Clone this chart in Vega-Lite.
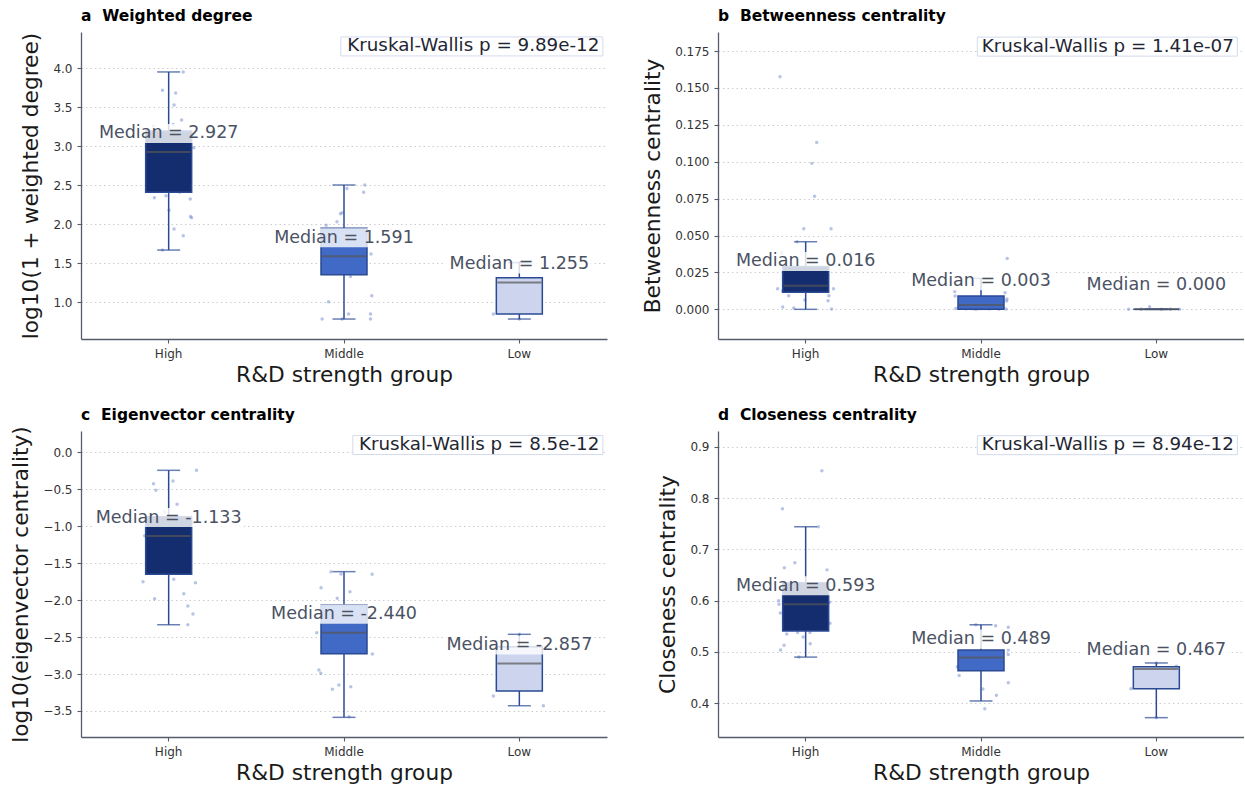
{
  "$schema": "https://vega.github.io/schema/vega-lite/v6.json",
  "background": "white",
  "padding": {"left": 10, "top": 8, "right": 0, "bottom": 0},
  "autosize": {"type": "pad"},
  "config": {
    "font": "DejaVu Sans",
    "view": {"stroke": null},
    "axis": {"domainColor": "#555b6b", "domainWidth": 1.3, "tickColor": "#555b6b", "tickWidth": 1.1, "tickSize": 4, "labelColor": "#333333", "labelFontSize": 12, "labelPadding": 5, "titleFontSize": 21.7, "titleFontWeight": "normal", "titleColor": "#1a1a1a", "gridColor": "#cccccc", "gridDash": [1.5, 3], "gridWidth": 1},
    "axisX": {"grid": false, "labelPadding": 5.5, "titlePadding": 5, "labelAngle": 0},
    "axisY": {"grid": true, "titlePadding": 10},
    "title": {"anchor": "start", "fontSize": 15.5, "fontWeight": "bold", "color": "#000000", "offset": 8, "frame": "group"}
  },
  "datasets": {
    "box_a": [
      {"group": "High", "lo": 1.67, "q1": 2.41, "med": 2.927, "q3": 3.196, "hi": 3.953, "label": "Median = 2.927"},
      {"group": "Middle", "lo": 0.786, "q1": 1.354, "med": 1.591, "q3": 1.949, "hi": 2.504, "label": "Median = 1.591"},
      {"group": "Low", "lo": 0.786, "q1": 0.85, "med": 1.255, "q3": 1.316, "hi": 1.51, "label": "Median = 1.255"}
    ],
    "box_b": [
      {"group": "High", "lo": 0, "q1": 0.0115, "med": 0.016, "q3": 0.029, "hi": 0.0458, "label": "Median = 0.016"},
      {"group": "Middle", "lo": 0, "q1": 0, "med": 0.003, "q3": 0.009, "hi": 0.021, "label": "Median = 0.003"},
      {"group": "Low", "lo": 0, "q1": 0, "med": 0, "q3": 0, "hi": 0, "label": "Median = 0.000"}
    ],
    "box_c": [
      {"group": "High", "lo": -2.333, "q1": -1.651, "med": -1.133, "q3": -0.871, "hi": -0.244, "label": "Median = -1.133"},
      {"group": "Middle", "lo": -3.586, "q1": -2.725, "med": -2.44, "q3": -2.066, "hi": -1.615, "label": "Median = -2.440"},
      {"group": "Low", "lo": -3.429, "q1": -3.23, "med": -2.857, "q3": -2.63, "hi": -2.463, "label": "Median = -2.857"}
    ],
    "box_d": [
      {"group": "High", "lo": 0.49, "q1": 0.541, "med": 0.593, "q3": 0.635, "hi": 0.744, "label": "Median = 0.593"},
      {"group": "Middle", "lo": 0.4045, "q1": 0.4636, "med": 0.489, "q3": 0.504, "hi": 0.553, "label": "Median = 0.489"},
      {"group": "Low", "lo": 0.372, "q1": 0.4285, "med": 0.467, "q3": 0.4714, "hi": 0.4786, "label": "Median = 0.467"}
    ],
    "kw_a": [{"label": "Kruskal-Wallis p = 9.89e-12"}],
    "kw_b": [{"label": "Kruskal-Wallis p = 1.41e-07"}],
    "kw_c": [{"label": "Kruskal-Wallis p = 8.5e-12"}],
    "kw_d": [{"label": "Kruskal-Wallis p = 8.94e-12"}],
    "pts_a": [
      {"group": "High", "v": 3.953, "j": 0.54}, {"group": "High", "v": 3.718, "j": -0.23}, {"group": "High", "v": 3.683, "j": 0.26}, {"group": "High", "v": 3.53, "j": 0.2}, {"group": "High", "v": 3.337, "j": 0.48}, {"group": "High", "v": 3.28, "j": 0.17}, {"group": "High", "v": 3.26, "j": -0.56}, {"group": "High", "v": 2.98, "j": 0.93}, {"group": "High", "v": 2.341, "j": -0.53}, {"group": "High", "v": 2.367, "j": -0.1}, {"group": "High", "v": 2.41, "j": 0.4}, {"group": "High", "v": 2.324, "j": 0.8}, {"group": "High", "v": 2.18, "j": 0.01}, {"group": "High", "v": 2.1, "j": 0.81}, {"group": "High", "v": 2.085, "j": 0.85}, {"group": "High", "v": 1.94, "j": 0.2}, {"group": "High", "v": 1.854, "j": 0.54}, {"group": "High", "v": 1.67, "j": -0.23}, {"group": "High", "v": 2.6, "j": -0.37}, {"group": "High", "v": 2.75, "j": 0.3}, {"group": "High", "v": 2.85, "j": -0.67}, {"group": "High", "v": 2.95, "j": 0.11}, {"group": "High", "v": 3.05, "j": 0.56}, {"group": "High", "v": 2.5, "j": 0.67}, {"group": "High", "v": 3.15, "j": -0.19}, {"group": "High", "v": 2.45, "j": -0.74},
      {"group": "Middle", "v": 2.504, "j": 0.77}, {"group": "Middle", "v": 2.46, "j": 0.11}, {"group": "Middle", "v": 2.41, "j": 0.73}, {"group": "Middle", "v": 2.149, "j": -0.07}, {"group": "Middle", "v": 2.136, "j": -0.13}, {"group": "Middle", "v": 2.033, "j": -0.26}, {"group": "Middle", "v": 1.987, "j": -0.66}, {"group": "Middle", "v": 1.62, "j": 1.0}, {"group": "Middle", "v": 1.33, "j": 0.24}, {"group": "Middle", "v": 1.085, "j": 1.03}, {"group": "Middle", "v": 1.008, "j": -0.57}, {"group": "Middle", "v": 0.786, "j": -0.81}, {"group": "Middle", "v": 0.85, "j": 0.17}, {"group": "Middle", "v": 0.85, "j": 0.98}, {"group": "Middle", "v": 0.786, "j": 0.98}, {"group": "Middle", "v": 0.786, "j": -0.07}, {"group": "Middle", "v": 1.45, "j": -0.19}, {"group": "Middle", "v": 1.7, "j": 0.37}, {"group": "Middle", "v": 1.8, "j": -0.44}, {"group": "Middle", "v": 1.55, "j": 0.56},
      {"group": "Low", "v": 0.85, "j": -0.96}, {"group": "Low", "v": 0.786, "j": 0}, {"group": "Low", "v": 1.255, "j": 0.37}, {"group": "Low", "v": 1.3, "j": -0.3}, {"group": "Low", "v": 1.51, "j": 0}, {"group": "Low", "v": 0.9, "j": 0.67}
    ],
    "pts_b": [
      {"group": "High", "v": 0.1576, "j": -0.95}, {"group": "High", "v": 0.1131, "j": 0.41}, {"group": "High", "v": 0.0989, "j": 0.23}, {"group": "High", "v": 0.0766, "j": 0.33}, {"group": "High", "v": 0.0546, "j": -0.07}, {"group": "High", "v": 0.0546, "j": 0.94}, {"group": "High", "v": 0.0458, "j": -0.32}, {"group": "High", "v": 0.038, "j": -0.89}, {"group": "High", "v": 0.014, "j": -1.04}, {"group": "High", "v": 0.0124, "j": -0.86}, {"group": "High", "v": 0.0092, "j": -0.63}, {"group": "High", "v": 0.0063, "j": -0.03}, {"group": "High", "v": 0.0058, "j": 0.83}, {"group": "High", "v": 0.0092, "j": 0.86}, {"group": "High", "v": 0.014, "j": 1.03}, {"group": "High", "v": 0.0016, "j": -0.85}, {"group": "High", "v": 0.0009, "j": -0.44}, {"group": "High", "v": 0.0002, "j": 0.96}, {"group": "High", "v": 0.0165, "j": 0.81}, {"group": "High", "v": 0.02, "j": 0.19}, {"group": "High", "v": 0.018, "j": -0.37}, {"group": "High", "v": 0.022, "j": 0.56}, {"group": "High", "v": 0.013, "j": 0.3}, {"group": "High", "v": 0.025, "j": -0.56},
      {"group": "Middle", "v": 0.0345, "j": 0.97}, {"group": "Middle", "v": 0.012, "j": -0.97}, {"group": "Middle", "v": 0.0113, "j": 0.89}, {"group": "Middle", "v": 0.0056, "j": 0.95}, {"group": "Middle", "v": 0.0005, "j": -0.93}, {"group": "Middle", "v": 0.0003, "j": -0.56}, {"group": "Middle", "v": 0.0, "j": -0.19}, {"group": "Middle", "v": 0.0004, "j": 0.3}, {"group": "Middle", "v": 0.0, "j": 0.67}, {"group": "Middle", "v": 0.0002, "j": 0.93}, {"group": "Middle", "v": 0.002, "j": -0.81}, {"group": "Middle", "v": 0.009, "j": -0.96}, {"group": "Middle", "v": 0.007, "j": 0.96}, {"group": "Middle", "v": 0.001, "j": 0.44},
      {"group": "Low", "v": 0, "j": -1.03}, {"group": "Low", "v": 0.0018, "j": -0.25}, {"group": "Low", "v": 0, "j": 0.86}, {"group": "Low", "v": 0, "j": 0.19}, {"group": "Low", "v": 0, "j": -0.56}, {"group": "Low", "v": 0, "j": 0.52}
    ],
    "pts_c": [
      {"group": "High", "v": -0.244, "j": 1.03}, {"group": "High", "v": -0.425, "j": -0.56}, {"group": "High", "v": -0.388, "j": 0.16}, {"group": "High", "v": -0.514, "j": -0.47}, {"group": "High", "v": -0.704, "j": 0.31}, {"group": "High", "v": -0.808, "j": -0.15}, {"group": "High", "v": -1.751, "j": -0.95}, {"group": "High", "v": -1.719, "j": 0.19}, {"group": "High", "v": -1.764, "j": 0.99}, {"group": "High", "v": -1.981, "j": -0.52}, {"group": "High", "v": -1.913, "j": 0.56}, {"group": "High", "v": -2.08, "j": 0.71}, {"group": "High", "v": -2.188, "j": 0.9}, {"group": "High", "v": -2.333, "j": 0.71}, {"group": "High", "v": -1.13, "j": -0.89}, {"group": "High", "v": -1.0, "j": -0.37}, {"group": "High", "v": -1.2, "j": 0.44}, {"group": "High", "v": -1.4, "j": -0.19}, {"group": "High", "v": -1.5, "j": 0.74}, {"group": "High", "v": -0.95, "j": 0.93},
      {"group": "Middle", "v": -1.615, "j": -0.48}, {"group": "Middle", "v": -1.647, "j": -0.11}, {"group": "Middle", "v": -1.65, "j": 1.04}, {"group": "Middle", "v": -1.832, "j": -0.85}, {"group": "Middle", "v": -1.886, "j": 0.22}, {"group": "Middle", "v": -1.976, "j": -0.25}, {"group": "Middle", "v": -2.441, "j": -1.01}, {"group": "Middle", "v": -2.729, "j": 1.05}, {"group": "Middle", "v": -2.946, "j": -0.93}, {"group": "Middle", "v": -2.99, "j": -0.86}, {"group": "Middle", "v": -3.207, "j": -0.43}, {"group": "Middle", "v": -3.149, "j": -0.19}, {"group": "Middle", "v": -3.172, "j": 0.25}, {"group": "Middle", "v": -3.578, "j": 0.19}, {"group": "Middle", "v": -2.3, "j": 0.37}, {"group": "Middle", "v": -2.5, "j": -0.3}, {"group": "Middle", "v": -2.6, "j": 0.56},
      {"group": "Low", "v": -3.298, "j": -0.96}, {"group": "Low", "v": -3.429, "j": 0.89}, {"group": "Low", "v": -2.463, "j": 0}, {"group": "Low", "v": -2.9, "j": 0.37}, {"group": "Low", "v": -3.1, "j": -0.37}
    ],
    "pts_d": [
      {"group": "High", "v": 0.853, "j": 0.6}, {"group": "High", "v": 0.779, "j": -0.86}, {"group": "High", "v": 0.744, "j": 0.47}, {"group": "High", "v": 0.664, "j": -0.79}, {"group": "High", "v": 0.674, "j": -0.4}, {"group": "High", "v": 0.66, "j": 0.79}, {"group": "High", "v": 0.6, "j": -1.0}, {"group": "High", "v": 0.593, "j": -0.99}, {"group": "High", "v": 0.576, "j": -0.94}, {"group": "High", "v": 0.597, "j": 0.89}, {"group": "High", "v": 0.556, "j": 0.9}, {"group": "High", "v": 0.535, "j": -0.7}, {"group": "High", "v": 0.538, "j": -0.3}, {"group": "High", "v": 0.538, "j": 0.16}, {"group": "High", "v": 0.529, "j": -0.09}, {"group": "High", "v": 0.516, "j": 0.17}, {"group": "High", "v": 0.513, "j": -0.8}, {"group": "High", "v": 0.504, "j": -0.93}, {"group": "High", "v": 0.49, "j": -0.25}, {"group": "High", "v": 0.61, "j": 0.37}, {"group": "High", "v": 0.57, "j": -0.19},
      {"group": "Middle", "v": 0.551, "j": 0.54}, {"group": "Middle", "v": 0.548, "j": 1.01}, {"group": "Middle", "v": 0.504, "j": 1.01}, {"group": "Middle", "v": 0.495, "j": 1.01}, {"group": "Middle", "v": 0.471, "j": -0.88}, {"group": "Middle", "v": 0.454, "j": -0.81}, {"group": "Middle", "v": 0.44, "j": 1.01}, {"group": "Middle", "v": 0.428, "j": 0.07}, {"group": "Middle", "v": 0.4156, "j": 0.57}, {"group": "Middle", "v": 0.3895, "j": 0.14}, {"group": "Middle", "v": 0.553, "j": -0.19}, {"group": "Middle", "v": 0.48, "j": 0.19},
      {"group": "Low", "v": 0.4285, "j": -0.94}, {"group": "Low", "v": 0.47, "j": 0.26}, {"group": "Low", "v": 0.472, "j": 0.74}, {"group": "Low", "v": 0.4786, "j": 0}, {"group": "Low", "v": 0.372, "j": 0}, {"group": "Low", "v": 0.45, "j": -0.37}
    ]
  },
  "columns": 2,
  "spacing": {"row": 92, "column": 111},
  "bounds": "flush",
  "concat": [
    {
      "title": "a\u00a0\u00a0Weighted degree",
      "width": 526, "height": 307,
      "encoding": {"x": {"field": "group", "type": "nominal", "scale": {"type": "band", "domain": ["High", "Middle", "Low"], "paddingInner": 0, "paddingOuter": 0}, "axis": {"title": "R&D strength group"}}},
      "layer": [
        {"data": {"name": "pts_a"}, "mark": {"type": "point", "filled": true, "size": 12, "color": "#6f88cf", "opacity": 0.5},
         "encoding": {"y": {"field": "v", "type": "quantitative", "scale": {"domain": [0.53, 4.465], "nice": false, "zero": false}, "axis": {"title": "log10(1 + weighted degree)", "values": [1, 1.5, 2, 2.5, 3, 3.5, 4], "format": ".1f"}},
           "xOffset": {"field": "j", "type": "quantitative", "scale": {"domain": [-1, 1], "range": [60.67, 114.67]}}}},
        {"data": {"name": "box_a"}, "mark": {"type": "rule", "color": "#2b4a94", "strokeWidth": 1.5},
         "encoding": {"y": {"field": "lo", "type": "quantitative", "scale": {"domain": [0.53, 4.465], "nice": false, "zero": false}}, "y2": {"field": "hi"}}},
        {"data": {"name": "box_a"}, "mark": {"type": "tick", "color": "#2b4a94", "size": 23, "thickness": 1.5},
         "encoding": {"y": {"field": "lo", "type": "quantitative", "scale": {"domain": [0.53, 4.465], "nice": false, "zero": false}}}},
        {"data": {"name": "box_a"}, "mark": {"type": "tick", "color": "#2b4a94", "size": 23, "thickness": 1.5},
         "encoding": {"y": {"field": "hi", "type": "quantitative", "scale": {"domain": [0.53, 4.465], "nice": false, "zero": false}}}},
        {"data": {"name": "box_a"}, "mark": {"type": "bar", "width": 46, "stroke": "#2b4a94", "strokeWidth": 1.5},
         "encoding": {"y": {"field": "q1", "type": "quantitative", "scale": {"domain": [0.53, 4.465], "nice": false, "zero": false}}, "y2": {"field": "q3"},
           "color": {"field": "group", "type": "nominal", "scale": {"domain": ["High", "Middle", "Low"], "range": ["#142d6f", "#4169c6", "#ccd5ed"]}, "legend": null}}},
        {"data": {"name": "box_a"}, "mark": {"type": "tick", "color": "#555555", "size": 44, "thickness": 2},
         "encoding": {"y": {"field": "med", "type": "quantitative", "scale": {"domain": [0.53, 4.465], "nice": false, "zero": false}}}},
        {"data": {"name": "box_a"}, "mark": {"type": "point", "shape": "M-1,-0.127H1V0.127H-1Z", "size": 22500, "filled": true, "color": "white", "opacity": 0.8, "yOffset": -18.5},
         "encoding": {"y": {"field": "med", "type": "quantitative", "scale": {"domain": [0.53, 4.465], "nice": false, "zero": false}}}},
        {"data": {"name": "box_a"}, "mark": {"type": "text", "fontSize": 17.5, "color": "#4a5263", "dy": -18.5, "baseline": "middle"},
         "encoding": {"y": {"field": "med", "type": "quantitative", "scale": {"domain": [0.53, 4.465], "nice": false, "zero": false}}, "text": {"field": "label"}}},
        {"data": {"name": "kw_a"}, "mark": {"type": "point", "shape": "M-2.62,-0.095H0V0.095H-2.62Z", "size": 40000, "filled": true, "fill": "white", "stroke": "#d3daec", "strokeWidth": 1, "opacity": 1, "xOffset": 83.5},
         "encoding": {"x": {"datum": "Low"}, "y": {"datum": 4.28, "type": "quantitative", "scale": {"domain": [0.53, 4.465], "nice": false, "zero": false}}}},
        {"data": {"name": "kw_a"}, "mark": {"type": "text", "fontSize": 18.3, "color": "#1f2633", "align": "right", "baseline": "middle", "dx": 80},
         "encoding": {"x": {"datum": "Low"}, "y": {"datum": 4.28, "type": "quantitative", "scale": {"domain": [0.53, 4.465], "nice": false, "zero": false}}, "text": {"field": "label"}}}
      ]
    },
    {
      "title": "b\u00a0\u00a0Betweenness centrality",
      "width": 526, "height": 307,
      "encoding": {"x": {"field": "group", "type": "nominal", "scale": {"type": "band", "domain": ["High", "Middle", "Low"], "paddingInner": 0, "paddingOuter": 0}, "axis": {"title": "R&D strength group"}}},
      "layer": [
        {"data": {"name": "pts_b"}, "mark": {"type": "point", "filled": true, "size": 12, "color": "#6f88cf", "opacity": 0.5},
         "encoding": {"y": {"field": "v", "type": "quantitative", "scale": {"domain": [-0.0201, 0.1879], "nice": false, "zero": false}, "axis": {"title": "Betweenness centrality", "values": [0, 0.025, 0.05, 0.075, 0.1, 0.125, 0.15, 0.175], "format": ".3f"}},
           "xOffset": {"field": "j", "type": "quantitative", "scale": {"domain": [-1, 1], "range": [60.67, 114.67]}}}},
        {"data": {"name": "box_b"}, "mark": {"type": "rule", "color": "#2b4a94", "strokeWidth": 1.5},
         "encoding": {"y": {"field": "lo", "type": "quantitative", "scale": {"domain": [-0.0201, 0.1879], "nice": false, "zero": false}}, "y2": {"field": "hi"}}},
        {"data": {"name": "box_b"}, "mark": {"type": "tick", "color": "#2b4a94", "size": 23, "thickness": 1.5},
         "encoding": {"y": {"field": "lo", "type": "quantitative", "scale": {"domain": [-0.0201, 0.1879], "nice": false, "zero": false}}}},
        {"data": {"name": "box_b"}, "mark": {"type": "tick", "color": "#2b4a94", "size": 23, "thickness": 1.5},
         "encoding": {"y": {"field": "hi", "type": "quantitative", "scale": {"domain": [-0.0201, 0.1879], "nice": false, "zero": false}}}},
        {"data": {"name": "box_b"}, "mark": {"type": "bar", "width": 46, "stroke": "#2b4a94", "strokeWidth": 1.5},
         "encoding": {"y": {"field": "q1", "type": "quantitative", "scale": {"domain": [-0.0201, 0.1879], "nice": false, "zero": false}}, "y2": {"field": "q3"},
           "color": {"field": "group", "type": "nominal", "scale": {"domain": ["High", "Middle", "Low"], "range": ["#142d6f", "#4169c6", "#ccd5ed"]}, "legend": null}}},
        {"data": {"name": "box_b"}, "mark": {"type": "tick", "color": "#555555", "size": 44, "thickness": 2},
         "encoding": {"y": {"field": "med", "type": "quantitative", "scale": {"domain": [-0.0201, 0.1879], "nice": false, "zero": false}}}},
        {"data": {"name": "box_b"}, "mark": {"type": "point", "shape": "M-1,-0.127H1V0.127H-1Z", "size": 22500, "filled": true, "color": "white", "opacity": 0.8, "yOffset": -24.3},
         "encoding": {"y": {"field": "med", "type": "quantitative", "scale": {"domain": [-0.0201, 0.1879], "nice": false, "zero": false}}}},
        {"data": {"name": "box_b"}, "mark": {"type": "text", "fontSize": 17.5, "color": "#4a5263", "dy": -24.3, "baseline": "middle"},
         "encoding": {"y": {"field": "med", "type": "quantitative", "scale": {"domain": [-0.0201, 0.1879], "nice": false, "zero": false}}, "text": {"field": "label"}}},
        {"data": {"name": "kw_b"}, "mark": {"type": "point", "shape": "M-2.6,-0.095H0V0.095H-2.6Z", "size": 40000, "filled": true, "fill": "white", "stroke": "#d3daec", "strokeWidth": 1, "opacity": 1, "xOffset": 81},
         "encoding": {"x": {"datum": "Low"}, "y": {"datum": 0.178, "type": "quantitative", "scale": {"domain": [-0.0201, 0.1879], "nice": false, "zero": false}}}},
        {"data": {"name": "kw_b"}, "mark": {"type": "text", "fontSize": 18.3, "color": "#1f2633", "align": "right", "baseline": "middle", "dx": 77.5},
         "encoding": {"x": {"datum": "Low"}, "y": {"datum": 0.178, "type": "quantitative", "scale": {"domain": [-0.0201, 0.1879], "nice": false, "zero": false}}, "text": {"field": "label"}}}
      ]
    },
    {
      "title": {"text": "c\u00a0\u00a0Eigenvector centrality", "offset": 2.5},
      "width": 526, "height": 306,
      "encoding": {"x": {"field": "group", "type": "nominal", "scale": {"type": "band", "domain": ["High", "Middle", "Low"], "paddingInner": 0, "paddingOuter": 0}, "axis": {"title": "R&D strength group"}}},
      "layer": [
        {"data": {"name": "pts_c"}, "mark": {"type": "point", "filled": true, "size": 12, "color": "#6f88cf", "opacity": 0.5},
         "encoding": {"y": {"field": "v", "type": "quantitative", "scale": {"domain": [-3.852, 0.288], "nice": false, "zero": false}, "axis": {"title": "log10(eigenvector centrality)", "values": [-3.5, -3, -2.5, -2, -1.5, -1, -0.5, 0], "format": ".1f"}},
           "xOffset": {"field": "j", "type": "quantitative", "scale": {"domain": [-1, 1], "range": [60.67, 114.67]}}}},
        {"data": {"name": "box_c"}, "mark": {"type": "rule", "color": "#2b4a94", "strokeWidth": 1.5},
         "encoding": {"y": {"field": "lo", "type": "quantitative", "scale": {"domain": [-3.852, 0.288], "nice": false, "zero": false}}, "y2": {"field": "hi"}}},
        {"data": {"name": "box_c"}, "mark": {"type": "tick", "color": "#2b4a94", "size": 23, "thickness": 1.5},
         "encoding": {"y": {"field": "lo", "type": "quantitative", "scale": {"domain": [-3.852, 0.288], "nice": false, "zero": false}}}},
        {"data": {"name": "box_c"}, "mark": {"type": "tick", "color": "#2b4a94", "size": 23, "thickness": 1.5},
         "encoding": {"y": {"field": "hi", "type": "quantitative", "scale": {"domain": [-3.852, 0.288], "nice": false, "zero": false}}}},
        {"data": {"name": "box_c"}, "mark": {"type": "bar", "width": 46, "stroke": "#2b4a94", "strokeWidth": 1.5},
         "encoding": {"y": {"field": "q1", "type": "quantitative", "scale": {"domain": [-3.852, 0.288], "nice": false, "zero": false}}, "y2": {"field": "q3"},
           "color": {"field": "group", "type": "nominal", "scale": {"domain": ["High", "Middle", "Low"], "range": ["#142d6f", "#4169c6", "#ccd5ed"]}, "legend": null}}},
        {"data": {"name": "box_c"}, "mark": {"type": "tick", "color": "#555555", "size": 44, "thickness": 2},
         "encoding": {"y": {"field": "med", "type": "quantitative", "scale": {"domain": [-3.852, 0.288], "nice": false, "zero": false}}}},
        {"data": {"name": "box_c"}, "mark": {"type": "point", "shape": "M-1,-0.127H1V0.127H-1Z", "size": 22500, "filled": true, "color": "white", "opacity": 0.8, "yOffset": -18.5},
         "encoding": {"y": {"field": "med", "type": "quantitative", "scale": {"domain": [-3.852, 0.288], "nice": false, "zero": false}}}},
        {"data": {"name": "box_c"}, "mark": {"type": "text", "fontSize": 17.5, "color": "#4a5263", "dy": -18.5, "baseline": "middle"},
         "encoding": {"y": {"field": "med", "type": "quantitative", "scale": {"domain": [-3.852, 0.288], "nice": false, "zero": false}}, "text": {"field": "label"}}},
        {"data": {"name": "kw_c"}, "mark": {"type": "point", "shape": "M-2.5,-0.095H0V0.095H-2.5Z", "size": 40000, "filled": true, "fill": "white", "stroke": "#d3daec", "strokeWidth": 1, "opacity": 1, "xOffset": 83.5},
         "encoding": {"x": {"datum": "Low"}, "y": {"datum": 0.098, "type": "quantitative", "scale": {"domain": [-3.852, 0.288], "nice": false, "zero": false}}}},
        {"data": {"name": "kw_c"}, "mark": {"type": "text", "fontSize": 18.3, "color": "#1f2633", "align": "right", "baseline": "middle", "dx": 80},
         "encoding": {"x": {"datum": "Low"}, "y": {"datum": 0.098, "type": "quantitative", "scale": {"domain": [-3.852, 0.288], "nice": false, "zero": false}}, "text": {"field": "label"}}}
      ]
    },
    {
      "title": "d\u00a0\u00a0Closeness centrality",
      "width": 526, "height": 306,
      "encoding": {"x": {"field": "group", "type": "nominal", "scale": {"type": "band", "domain": ["High", "Middle", "Low"], "paddingInner": 0, "paddingOuter": 0}, "axis": {"title": "R&D strength group"}}},
      "layer": [
        {"data": {"name": "pts_d"}, "mark": {"type": "point", "filled": true, "size": 12, "color": "#6f88cf", "opacity": 0.5},
         "encoding": {"y": {"field": "v", "type": "quantitative", "scale": {"domain": [0.3343, 0.9306], "nice": false, "zero": false}, "axis": {"title": "Closeness centrality", "values": [0.4, 0.5, 0.6, 0.7, 0.8, 0.9], "format": ".1f"}},
           "xOffset": {"field": "j", "type": "quantitative", "scale": {"domain": [-1, 1], "range": [60.67, 114.67]}}}},
        {"data": {"name": "box_d"}, "mark": {"type": "rule", "color": "#2b4a94", "strokeWidth": 1.5},
         "encoding": {"y": {"field": "lo", "type": "quantitative", "scale": {"domain": [0.3343, 0.9306], "nice": false, "zero": false}}, "y2": {"field": "hi"}}},
        {"data": {"name": "box_d"}, "mark": {"type": "tick", "color": "#2b4a94", "size": 23, "thickness": 1.5},
         "encoding": {"y": {"field": "lo", "type": "quantitative", "scale": {"domain": [0.3343, 0.9306], "nice": false, "zero": false}}}},
        {"data": {"name": "box_d"}, "mark": {"type": "tick", "color": "#2b4a94", "size": 23, "thickness": 1.5},
         "encoding": {"y": {"field": "hi", "type": "quantitative", "scale": {"domain": [0.3343, 0.9306], "nice": false, "zero": false}}}},
        {"data": {"name": "box_d"}, "mark": {"type": "bar", "width": 46, "stroke": "#2b4a94", "strokeWidth": 1.5},
         "encoding": {"y": {"field": "q1", "type": "quantitative", "scale": {"domain": [0.3343, 0.9306], "nice": false, "zero": false}}, "y2": {"field": "q3"},
           "color": {"field": "group", "type": "nominal", "scale": {"domain": ["High", "Middle", "Low"], "range": ["#142d6f", "#4169c6", "#ccd5ed"]}, "legend": null}}},
        {"data": {"name": "box_d"}, "mark": {"type": "tick", "color": "#555555", "size": 44, "thickness": 2},
         "encoding": {"y": {"field": "med", "type": "quantitative", "scale": {"domain": [0.3343, 0.9306], "nice": false, "zero": false}}}},
        {"data": {"name": "box_d"}, "mark": {"type": "point", "shape": "M-1,-0.127H1V0.127H-1Z", "size": 22500, "filled": true, "color": "white", "opacity": 0.8, "yOffset": -18.5},
         "encoding": {"y": {"field": "med", "type": "quantitative", "scale": {"domain": [0.3343, 0.9306], "nice": false, "zero": false}}}},
        {"data": {"name": "box_d"}, "mark": {"type": "text", "fontSize": 17.5, "color": "#4a5263", "dy": -18.5, "baseline": "middle"},
         "encoding": {"y": {"field": "med", "type": "quantitative", "scale": {"domain": [0.3343, 0.9306], "nice": false, "zero": false}}, "text": {"field": "label"}}},
        {"data": {"name": "kw_d"}, "mark": {"type": "point", "shape": "M-2.6,-0.095H0V0.095H-2.6Z", "size": 40000, "filled": true, "fill": "white", "stroke": "#d3daec", "strokeWidth": 1, "opacity": 1, "xOffset": 81},
         "encoding": {"x": {"datum": "Low"}, "y": {"datum": 0.903, "type": "quantitative", "scale": {"domain": [0.3343, 0.9306], "nice": false, "zero": false}}}},
        {"data": {"name": "kw_d"}, "mark": {"type": "text", "fontSize": 18.3, "color": "#1f2633", "align": "right", "baseline": "middle", "dx": 77.5},
         "encoding": {"x": {"datum": "Low"}, "y": {"datum": 0.903, "type": "quantitative", "scale": {"domain": [0.3343, 0.9306], "nice": false, "zero": false}}, "text": {"field": "label"}}}
      ]
    }
  ]
}
